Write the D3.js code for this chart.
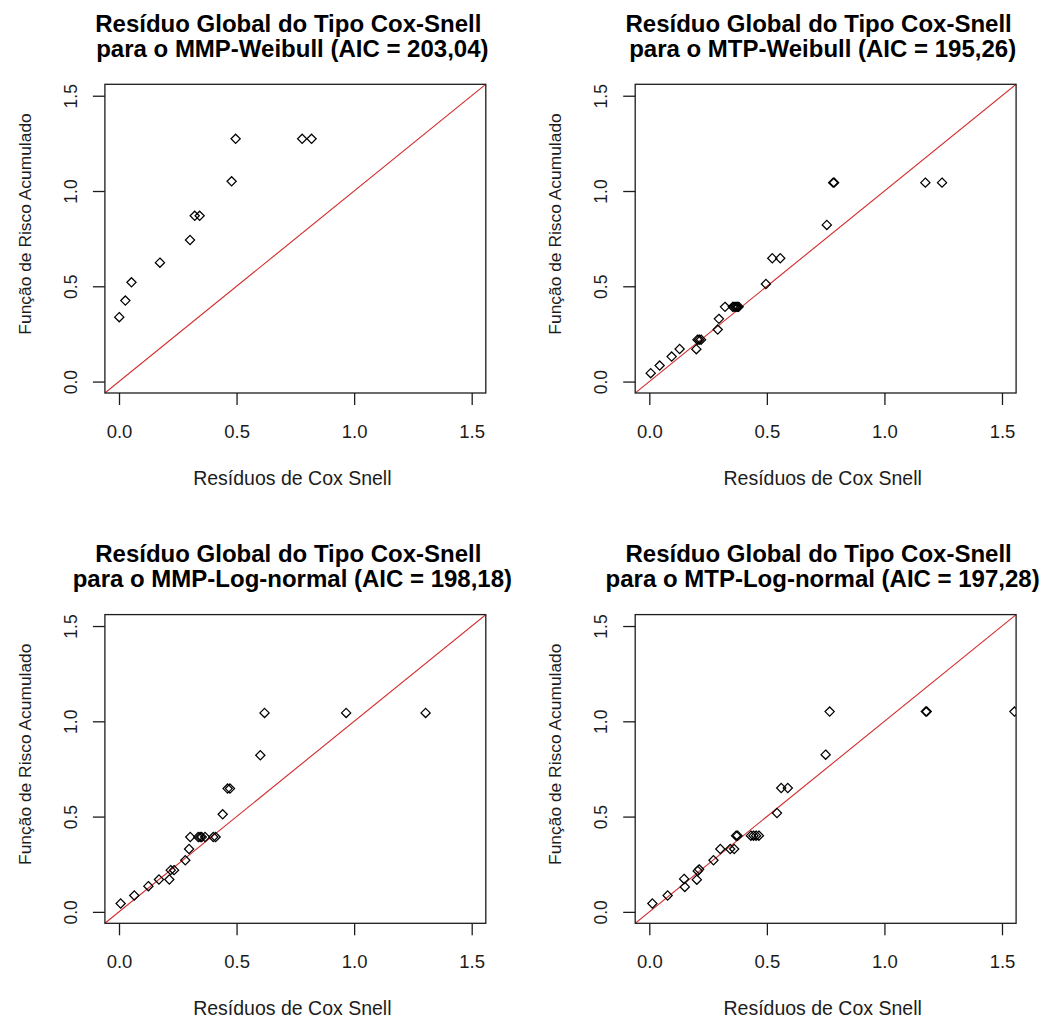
<!DOCTYPE html>
<html>
<head>
<meta charset="utf-8">
<script src="https://cdn.jsdelivr.net/npm/d3@7"></script>
<style>
  body { margin: 0; background: #fff; }
  text { font-family: "Liberation Sans", Arial, sans-serif; }
</style>
</head>
<body>
<svg width="1051" height="1023"></svg>
<script>
// values
const axisTicks = [0, 0.5, 1.0, 1.5];
const titleLine1 = "Resíduo Global do Tipo Cox-Snell";
const titleLine2 = [
    "para o MMP-Weibull (AIC = 203,04)",
    "para o MTP-Weibull (AIC = 195,26)",
    "para o MMP-Log-normal (AIC = 198,18)",
    "para o MTP-Log-normal (AIC = 197,28)"
];
const xLabel = "Resíduos de Cox Snell";
const yLabel = "Função de Risco Acumulado";

const mmpWeibullX = [0.001, 0.027, 0.053, 0.174, 0.302, 0.322, 0.343, 0.479, 0.496, 0.779, 0.819];
const mmpWeibullY = [0.338, 0.425, 0.521, 0.624, 0.743, 0.870, 0.870, 1.051, 1.274, 1.274, 1.274];

const mtpWeibullX = [0.006, 0.044, 0.095, 0.129, 0.200, 0.205, 0.212, 0.220, 0.291, 0.296, 0.322,
    0.355, 0.360, 0.365, 0.370, 0.375, 0.380, 0.496, 0.523, 0.557, 0.755, 0.782, 0.786, 1.174, 1.245];
const mtpWeibullY = [0.044, 0.084, 0.131, 0.171, 0.170, 0.220, 0.220, 0.220, 0.273, 0.329, 0.392,
    0.392, 0.392, 0.392, 0.392, 0.392, 0.392, 0.512, 0.647, 0.647, 0.822, 1.044, 1.044, 1.044, 1.044];

const mmpLognormX = [0.007, 0.065, 0.125, 0.170, 0.214, 0.220, 0.234, 0.282, 0.298, 0.303, 0.337,
    0.345, 0.352, 0.366, 0.401, 0.411, 0.441, 0.462, 0.472, 0.601, 0.619, 0.966, 1.304];
const mmpLognormY = [0.044, 0.086, 0.135, 0.170, 0.170, 0.219, 0.219, 0.271, 0.330, 0.393, 0.393,
    0.393, 0.393, 0.393, 0.393, 0.393, 0.512, 0.647, 0.647, 0.822, 1.044, 1.044, 1.044];

const mtpLognormX = [0.013, 0.078, 0.151, 0.148, 0.202, 0.206, 0.212, 0.273, 0.302, 0.344, 0.361,
    0.369, 0.375, 0.432, 0.443, 0.454, 0.466, 0.543, 0.561, 0.589, 0.750, 0.767, 1.176, 1.180, 1.553];
const mtpLognormY = [0.044, 0.086, 0.131, 0.173, 0.169, 0.215, 0.223, 0.271, 0.330, 0.330, 0.330,
    0.400, 0.400, 0.400, 0.400, 0.400, 0.400, 0.519, 0.650, 0.650, 0.825, 1.051, 1.051, 1.051, 1.051];

const panels = [
    {xs: mmpWeibullX, ys: mmpWeibullY, title: titleLine2[0], col: 0, row: 0},
    {xs: mtpWeibullX, ys: mtpWeibullY, title: titleLine2[1], col: 1, row: 0},
    {xs: mmpLognormX, ys: mmpLognormY, title: titleLine2[2], col: 0, row: 1},
    {xs: mtpLognormX, ys: mtpLognormY, title: titleLine2[3], col: 1, row: 1}
];

const svg = d3.select("svg");
const cell = 530.3;
const box = {left: 104.9, top: 84.3, width: 380.9, height: 308.7};
const domain = [-0.06, 1.56];
const ink = "#1c1c1c";

panels.forEach((p, i) => {
    const g = svg.append("g")
        .attr("transform", `translate(${p.col * cell},${p.row * cell})`);

    const x = d3.scaleLinear().domain(domain).range([box.left, box.left + box.width]);
    const y = d3.scaleLinear().domain(domain).range([box.top + box.height, box.top]);
    const cx = box.left + box.width / 2;
    const cy = box.top + box.height / 2;

    g.append("clipPath").attr("id", "clip" + i)
        .append("rect")
        .attr("x", box.left).attr("y", box.top)
        .attr("width", box.width).attr("height", box.height);

    // reference line y = x
    g.append("line")
        .attr("clip-path", `url(#clip${i})`)
        .attr("x1", x(domain[0])).attr("y1", y(domain[0]))
        .attr("x2", x(domain[1])).attr("y2", y(domain[1]))
        .attr("stroke", "#d42a2a")
        .attr("stroke-width", 1.1);

    const pts = p.xs.map((v, k) => ({x: v, y: p.ys[k]}));
    const r = 4.6;
    g.append("g")
        .attr("clip-path", `url(#clip${i})`)
        .selectAll("path")
        .data(pts)
        .join("path")
        .attr("d", d => {
            const px = x(d.x), py = y(d.y);
            return `M${px},${py - r}L${px + r},${py}L${px},${py + r}L${px - r},${py}Z`;
        })
        .attr("fill", "none")
        .attr("stroke", "#000")
        .attr("stroke-width", 1.25);

    g.append("rect")
        .attr("x", box.left).attr("y", box.top)
        .attr("width", box.width).attr("height", box.height)
        .attr("fill", "none")
        .attr("stroke", ink)
        .attr("stroke-width", 1.3);

    const xAxis = g.append("g")
        .attr("transform", `translate(0,${box.top + box.height})`)
        .call(d3.axisBottom(x).tickValues(axisTicks).tickFormat(d3.format(".1f"))
            .tickSize(12).tickPadding(20));
    xAxis.select(".domain").remove();
    xAxis.selectAll("line").attr("stroke", ink).attr("stroke-width", 1.3);
    xAxis.selectAll("text")
        .attr("fill", ink)
        .style("font-size", "18.5px");

    const yAxis = g.append("g")
        .attr("transform", `translate(${box.left},0)`)
        .call(d3.axisLeft(y).tickValues(axisTicks).tickFormat(d3.format(".1f")).tickSize(12));
    yAxis.select(".domain").remove();
    yAxis.selectAll("line").attr("stroke", ink).attr("stroke-width", 1.3);
    yAxis.selectAll("text")
        .attr("fill", ink)
        .attr("x", 0)
        .attr("y", -28)
        .attr("dy", null)
        .attr("text-anchor", "middle")
        .attr("transform", "rotate(-90)")
        .style("font-size", "17.5px");

    // titles
    g.append("text")
        .attr("x", cx - 7).attr("y", 32)
        .attr("text-anchor", "middle")
        .attr("font-weight", "bold")
        .style("font-size", "24px")
        .attr("fill", "#000")
        .text(titleLine1);
    g.append("text")
        .attr("x", cx - 3).attr("y", 57)
        .attr("text-anchor", "middle")
        .attr("font-weight", "bold")
        .style("font-size", "24px")
        .attr("fill", "#000")
        .text(p.title);

    g.append("text")
        .attr("x", cx - 3).attr("y", 485)
        .attr("text-anchor", "middle")
        .style("font-size", "19.5px")
        .attr("fill", ink)
        .text(xLabel);

    g.append("text")
        .attr("transform", `translate(31,${cy - 14.7}) rotate(-90)`)
        .attr("text-anchor", "middle")
        .style("font-size", "17.4px")
        .attr("fill", ink)
        .text(yLabel);
});
</script>
</body>
</html>
